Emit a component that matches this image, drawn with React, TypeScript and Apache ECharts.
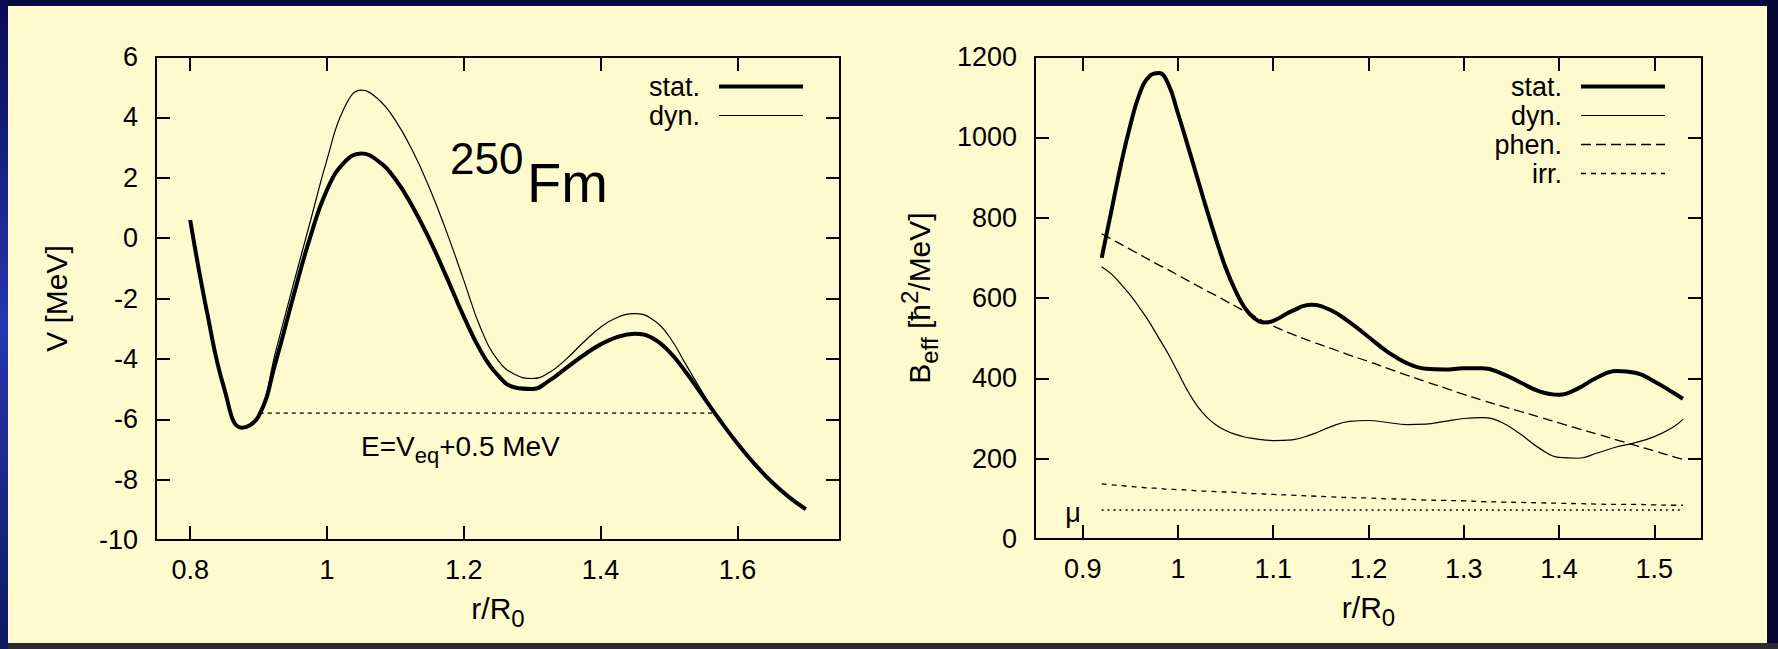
import React, { useEffect, useRef } from "react";
import * as echarts from "echarts";

// ---------- Left panel: potential V(r/R0) for 250Fm ----------
const V_X = [
  0.8, 0.825, 0.85, 0.875, 0.9, 0.925, 0.95, 0.975, 1.0, 1.025, 1.05, 1.075, 1.1,
  1.125, 1.15, 1.175, 1.2, 1.225, 1.25, 1.275, 1.3, 1.325, 1.35, 1.375, 1.4, 1.425,
  1.45, 1.475, 1.5, 1.525, 1.55, 1.575, 1.6, 1.625, 1.65, 1.675, 1.7,
];
const V_STAT = [
  0.6, -2.5, -5.0, -6.28, -5.9, -4.1, -2.0, 0.0, 1.6, 2.5, 2.8, 2.55, 1.95,
  1.05, -0.05, -1.3, -2.6, -3.75, -4.55, -4.95, -5.0, -4.72, -4.3, -3.88, -3.52, -3.27,
  -3.17, -3.3, -3.75, -4.45, -5.25, -6.05, -6.8, -7.48, -8.07, -8.57, -8.98,
];
const V_DYN = [
  0.6, -2.5, -5.0, -6.28, -5.9, -3.75, -1.6, 0.5, 2.6, 4.3, 4.9, 4.6, 3.9,
  2.9, 1.65, 0.2, -1.4, -3.0, -4.05, -4.52, -4.65, -4.45, -4.0, -3.45, -2.95, -2.62,
  -2.5, -2.68, -3.25, -4.2, -5.15, -6.05, -6.8, -7.48, -8.07, -8.57, -8.98,
];
const E_LEVEL = -5.8;
const E_X_RANGE = [0.902, 1.565];
const V_X_TICKS = [0.8, 1, 1.2, 1.4, 1.6];

// ---------- Right panel: effective inertia B_eff(r/R0) ----------
const B_X = [
  0.92, 0.93, 0.94, 0.95, 0.96, 0.97, 0.98, 0.99, 1.0, 1.01, 1.02, 1.03, 1.04, 1.05,
  1.06, 1.07, 1.08, 1.09, 1.1, 1.12, 1.14, 1.16, 1.18, 1.2, 1.22, 1.24, 1.26, 1.28,
  1.3, 1.32, 1.34, 1.36, 1.38, 1.4, 1.42, 1.44, 1.46, 1.48, 1.5, 1.52, 1.53,
];
const B_STAT = [
  700, 815, 930, 1030, 1110, 1152, 1160, 1132, 1060, 982, 902, 822, 746, 676,
  620, 576, 550, 539, 543, 568, 583, 570, 540, 503, 466, 438, 424, 422,
  425, 425, 412, 389, 367, 359, 375, 402, 418, 414, 392, 364, 349,
];
const B_DYN = [
  678, 660, 635, 607, 575, 540, 500, 460, 415, 370, 332, 304, 284, 270,
  261, 254, 250, 247, 245, 247, 260, 279, 293, 295, 290, 285, 286, 293,
  300, 302, 290, 260, 225, 203, 201, 214, 229, 240, 255, 279, 298,
];
const B_PHEN = [
  760, 747, 734, 721, 708, 695, 682, 670, 657, 644, 631, 618, 606, 593,
  580, 567, 555, 542, 530, 510, 492, 475, 458, 442, 425, 408, 392, 376,
  360, 345, 331, 317, 303, 289, 275, 261, 247, 233, 219, 205, 198,
];
const B_IRR = [
  137, 135, 133, 131, 129, 127, 126, 124, 123, 122, 120, 119, 118, 117,
  116, 114, 113, 112, 111, 109, 107, 105, 103, 102, 100, 99, 97, 96,
  95, 93, 92, 91, 90, 89, 88, 87, 86, 86, 85, 84, 84,
];
const MU_LEVEL = 72;
const MU_X_RANGE = [0.92, 1.53];
const B_X_TICKS = [0.9, 1, 1.1, 1.2, 1.3, 1.4, 1.5];

const LEFT_LEGEND = ["stat.", "dyn."];
const RIGHT_LEGEND = ["stat.", "dyn.", "phen.", "irr."];

const FONT = "Liberation Sans";
const BLACK = "#000";

const zip = (xs: number[], ys: number[]) => xs.map((x, i) => [x, ys[i]]);
const fmt = (v: number) => String(Math.round(v * 1000) / 1000);

const titleStyle = {
  fontSize: 30,
  lineHeight: 46,
  color: BLACK,
  fontFamily: FONT,
  rich: {
    sub: { fontSize: 24, lineHeight: 24, padding: [21, 0, 0, 0], color: BLACK, fontFamily: FONT },
    sup: { fontSize: 24, lineHeight: 24, padding: [0, 0, 20, 0], color: BLACK, fontFamily: FONT },
  },
};

const axisLine = { show: true, onZero: false, lineStyle: { color: BLACK, width: 2 } };
const tickStyle = { color: BLACK, width: 2 };

function xAxes(gridIndex: number, min: number, max: number, ticks: number[]) {
  const common: any = {
    type: "value",
    gridIndex,
    min,
    max,
    splitLine: { show: false },
    axisLine,
    axisTick: { show: true, inside: true, length: 14, customValues: ticks, lineStyle: tickStyle },
  };
  return [
    {
      ...common,
      position: "bottom",
      axisLabel: {
        customValues: ticks,
        margin: 16,
        fontSize: 27,
        color: BLACK,
        fontFamily: FONT,
        formatter: fmt,
      },
      name: "r/R{sub|0}",
      nameLocation: "middle",
      nameGap: 45,
      nameMoveOverlap: false,
      nameTextStyle: titleStyle,
    },
    { ...common, position: "top", axisLabel: { show: false } },
  ];
}

function yAxes(gridIndex: number, min: number, max: number, interval: number, name: string, nameGap: number) {
  const common: any = {
    type: "value",
    gridIndex,
    min,
    max,
    interval,
    splitLine: { show: false },
    axisLine,
    axisTick: { show: true, inside: true, length: 14, lineStyle: tickStyle },
  };
  return [
    {
      ...common,
      position: "left",
      axisLabel: { margin: 18, fontSize: 27, color: BLACK, fontFamily: FONT, formatter: fmt },
      name,
      nameLocation: "middle",
      nameGap,
      nameMoveOverlap: false,
      nameTextStyle: titleStyle,
    },
    { ...common, position: "right", axisLabel: { show: false } },
  ];
}

function lineSeries(name: string, xi: number, data: number[][], width: number, type: any = "solid") {
  return {
    name,
    type: "line",
    xAxisIndex: xi,
    yAxisIndex: xi,
    data,
    showSymbol: false,
    symbol: "none",
    smooth: 0.45,
    silent: true,
    lineStyle: { color: BLACK, width, type },
  };
}

function legend(names: string[], right: number) {
  return {
    data: names,
    orient: "vertical",
    right,
    top: 72,
    align: "right",
    itemWidth: 84,
    itemHeight: 14,
    itemGap: 0,
    padding: 0,
    selectedMode: false,
    itemStyle: { opacity: 0, borderWidth: 0 },
    lineStyle: { width: "inherit", type: "inherit", color: "inherit" },
    textStyle: {
      fontSize: 27,
      lineHeight: 29,
      color: BLACK,
      fontFamily: FONT,
      padding: [0, 14, 0, 0],
    },
  };
}

function buildOption(): any {
  return {
    animation: false,
    backgroundColor: "#FFFACD",
    textStyle: { fontFamily: FONT, color: BLACK },
    grid: [
      { left: 156, top: 57, width: 684, height: 483, outerBoundsMode: "none" },
      { left: 1035, top: 57, width: 667, height: 482, outerBoundsMode: "none" },
    ],
    xAxis: [...xAxes(0, 0.75, 1.75, V_X_TICKS), ...xAxes(1, 0.85, 1.55, B_X_TICKS)],
    yAxis: [
      ...yAxes(0, -10, 6, 2, "V [MeV]", 77),
      ...yAxes(1, 0, 1200, 200, "B{sub|eff} [ħ{sup|2}/MeV]", 93),
    ],
    legend: [legend(LEFT_LEGEND, 973), legend(RIGHT_LEGEND, 111)],
    series: [
      lineSeries("stat.", 0, zip(V_X, V_STAT), 4),
      lineSeries("dyn.", 0, zip(V_X, V_DYN), 1.2),
      lineSeries(
        "E",
        0,
        [
          [E_X_RANGE[0], E_LEVEL],
          [E_X_RANGE[1], E_LEVEL],
        ],
        1.2,
        [4, 4]
      ),
      lineSeries("stat.", 2, zip(B_X, B_STAT), 4),
      lineSeries("dyn.", 2, zip(B_X, B_DYN), 1.2),
      lineSeries("phen.", 2, zip(B_X, B_PHEN), 1.3, [10, 5]),
      lineSeries("irr.", 2, zip(B_X, B_IRR), 1.3, [5, 5]),
      lineSeries(
        "mu",
        2,
        [
          [MU_X_RANGE[0], MU_LEVEL],
          [MU_X_RANGE[1], MU_LEVEL],
        ],
        1.5,
        [2, 4]
      ),
    ],
    graphic: [
      { type: "rect", shape: { x: 0, y: 0, width: 1778, height: 6 }, style: { fill: "#0a0a42" }, silent: true },
      { type: "rect", shape: { x: 1767, y: 0, width: 11, height: 649 }, style: { fill: "#070733" }, silent: true },
      { type: "rect", shape: { x: 0, y: 643, width: 1778, height: 6 }, style: { fill: "#2c2c30" }, silent: true },
      {
        type: "rect",
        shape: { x: 0, y: 0, width: 8, height: 649 },
        style: {
          fill: new echarts.graphic.LinearGradient(0, 0, 0, 1, [
            { offset: 0, color: "#0a0a55" },
            { offset: 0.5, color: "#2438b0" },
            { offset: 1, color: "#101860" },
          ]),
        },
        silent: true,
      },
      {
        type: "text",
        x: 450,
        y: 158,
        style: { text: "250", fontSize: 44, fontFamily: FONT, fill: BLACK, align: "left", verticalAlign: "middle" },
      },
      {
        type: "text",
        x: 527,
        y: 182.5,
        style: { text: "Fm", fontSize: 56, fontFamily: FONT, fill: BLACK, align: "left", verticalAlign: "middle" },
      },
      {
        type: "text",
        x: 361,
        y: 446,
        style: {
          text: "E=V{sub|eq}+0.5 MeV",
          fontSize: 28,
          lineHeight: 42,
          fontFamily: FONT,
          fill: BLACK,
          align: "left",
          verticalAlign: "middle",
          rich: {
            sub: { fontSize: 22, lineHeight: 22, padding: [18, 0, 0, 0], fontFamily: FONT, fill: BLACK },
          },
        },
      },
      {
        type: "text",
        x: 1073,
        y: 513,
        style: { text: "μ", fontSize: 27, fontFamily: FONT, fill: BLACK, align: "center", verticalAlign: "middle" },
      },
    ],
  };
}

export default function App() {
  const ref = useRef<HTMLDivElement>(null);
  useEffect(() => {
    if (!ref.current) return;
    const chart = echarts.init(ref.current, null, { renderer: "svg" });
    chart.setOption(buildOption());
    return () => chart.dispose();
  }, []);
  return (
    <div
      ref={ref}
      style={{ position: "absolute", left: 0, top: 0, width: 1778, height: 649 }}
    />
  );
}
